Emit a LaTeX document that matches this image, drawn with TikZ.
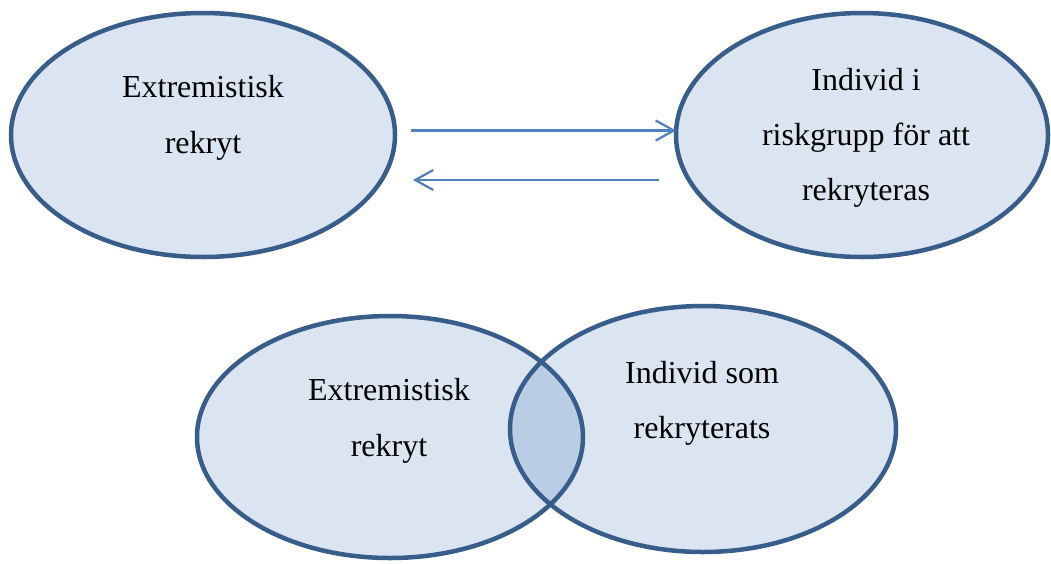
\documentclass[tikz,border=0pt]{standalone}
\usepackage{fontspec}
\setmainfont{Liberation Serif}
\usetikzlibrary{shapes.geometric,arrows.meta}
\definecolor{ellstroke}{HTML}{385D8A}
\definecolor{ellfill}{HTML}{DBE5F1}
\definecolor{overlapfill}{HTML}{B9CDE5}
\definecolor{arrowblue}{HTML}{4F81BD}
\begin{document}
\begin{tikzpicture}[x=1pt,y=-1pt,
  bubble/.style={ellipse, fill=ellfill, inner sep=0pt, outer sep=0pt},
  rim/.style={draw=ellstroke, line width=4.5pt},
  txt/.style={font=\fontsize{32}{38}\selectfont, anchor=base, inner sep=0pt},
  arrowline/.style={draw=arrowblue, line width=2.2pt, -{Straight Barb[length=18pt,width=20pt]}}]
\useasboundingbox (0,0) rectangle (1051,563);
% top row
\node[bubble, rim, minimum width=384pt, minimum height=244pt] (tl) at (203,135) {};
\node[bubble, rim, minimum width=372pt, minimum height=244pt] (tr) at (862,135) {};
\node[txt] (tl1) at (203,97) {Extremistisk};
\node[txt] (tl2) at (203,153) {rekryt};
\node[txt] (tr1) at (866,90) {Individ i};
\node[txt] (tr2) at (866,145) {riskgrupp för att};
\node[txt] (tr3) at (866,200) {rekryteras};
\draw[arrowline] ([xshift=16pt,yshift=4.5pt]tl.east) -- ([yshift=4.5pt]tr.west);
\draw[arrowline] ([xshift=-17pt,yshift=-45pt]tr.west) -- ([xshift=18pt,yshift=-45pt]tl.east);
% bottom row
\node[bubble, minimum width=386pt, minimum height=242pt] (bl) at (390,437) {};
\node[bubble, minimum width=386pt, minimum height=246pt] (br) at (703,429) {};
\begin{scope}
  \clip (bl.center) ellipse [x radius=193pt, y radius=121pt];
  \fill[overlapfill] (br.center) ellipse [x radius=193pt, y radius=123pt];
\end{scope}
\draw[rim] (bl.center) ellipse [x radius=193pt, y radius=121pt];
\draw[rim] (br.center) ellipse [x radius=193pt, y radius=123pt];
\node[txt] (bl1) at (389,400) {Extremistisk};
\node[txt] (bl2) at (389,456) {rekryt};
\node[txt] (br1) at (702,383) {Individ som};
\node[txt] (br2) at (702,438) {rekryterats};
\end{tikzpicture}
\end{document}
